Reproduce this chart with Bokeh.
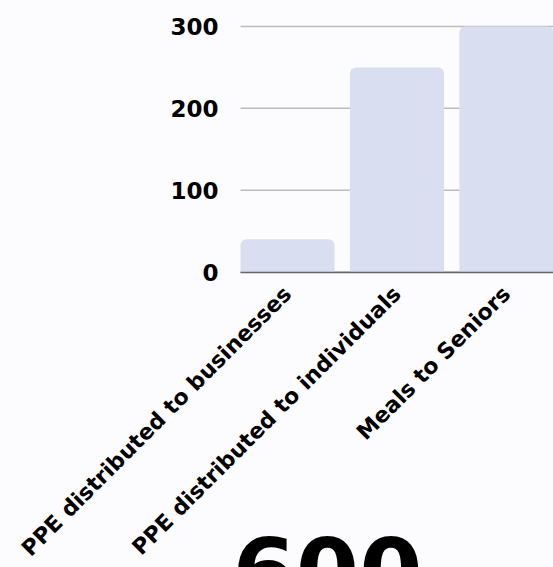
import math
from bokeh.plotting import figure
from bokeh.models import Range1d, FixedTicker, Label, ColumnDataSource
from bokeh.embed import file_html
from bokeh.resources import INLINE

categories = ["PPE distributed to businesses", "PPE distributed to individuals", "Meals to Seniors"]
values = [40, 250, 300]
y_ticks = [0, 100, 200, 300]
big_number = "600"

xs = list(range(len(categories)))
src = ColumnDataSource(dict(x=xs, top=values, name=categories))

BG = "#fcfcfe"
FONT = "DejaVu Sans"
W, H = 553, 567
BAR_W = 0.86

# layout targets (pixels) for the plotting area inside the canvas
plot_left_px, plot_top_px, zero_px = 240.0, 26.0, 271.6
x_lo = -BAR_W / 2
x_hi = (len(categories) - 1) + BAR_W / 2
ppx = (W - plot_left_px) / (x_hi - x_lo)
ppy = (zero_px - plot_top_px) / max(y_ticks)
x_start = x_lo - plot_left_px / ppx
y_end = max(y_ticks) + plot_top_px / ppy
y_start = -(H - zero_px) / ppy

p = figure(width=W, height=H, output_backend="svg", toolbar_location=None,
           x_range=Range1d(x_start, x_hi), y_range=Range1d(y_start, y_end),
           min_border_left=0, min_border_right=0, min_border_top=0, min_border_bottom=0)
p.background_fill_color = BG
p.border_fill_color = BG
p.outline_line_color = None
p.xgrid.grid_line_color = None
p.ygrid.grid_line_color = None

# horizontal grid lines over the plotting area
n = len(y_ticks)
p.segment(x0=[x_lo] * n, x1=[x_hi + 1] * n, y0=y_ticks, y1=y_ticks,
          line_color="#bbbbbb", line_width=1.5)

p.vbar(x="x", top="top", width=BAR_W, source=src, fill_color="#d9dff0", line_color=None,
       border_radius=(6, 6, 0, 0))

# y axis
p.yaxis.fixed_location = x_lo
p.yaxis.ticker = FixedTicker(ticks=y_ticks)
p.yaxis.axis_line_color = None
p.yaxis.major_tick_line_color = None
p.yaxis.minor_tick_line_color = None
p.yaxis.major_tick_in = 0
p.yaxis.major_tick_out = 0
p.yaxis.major_label_standoff = 22
p.yaxis.major_label_text_font = FONT
p.yaxis.major_label_text_font_size = "23px"
p.yaxis.major_label_text_font_style = "bold"
p.yaxis.major_label_text_color = "#000000"

# x axis
p.xaxis.fixed_location = 0
p.xaxis.bounds = (x_lo, x_hi + 1)
p.xaxis.ticker = FixedTicker(ticks=xs)
p.xaxis.major_label_overrides = {i: c for i, c in zip(xs, categories)}
p.xaxis.major_label_orientation = math.pi / 4
p.xaxis.axis_line_color = "#666666"
p.xaxis.axis_line_width = 1.5
p.xaxis.major_tick_line_color = None
p.xaxis.minor_tick_line_color = None
p.xaxis.major_tick_in = 0
p.xaxis.major_tick_out = 0
p.xaxis.major_label_standoff = 18
p.xaxis.major_label_text_font = FONT
p.xaxis.major_label_text_font_size = "22px"
p.xaxis.major_label_text_font_style = "bold"
p.xaxis.major_label_text_color = "#000000"

big = Label(x=x_lo - 8 / ppx, y=-(570 - zero_px) / ppy, text=big_number,
            text_font=FONT, text_font_size="91px", text_font_style="bold",
            text_color="#000000", text_baseline="alphabetic", text_align="left")
p.add_layout(big)

open("out.html", "w").write(file_html(p, INLINE))
